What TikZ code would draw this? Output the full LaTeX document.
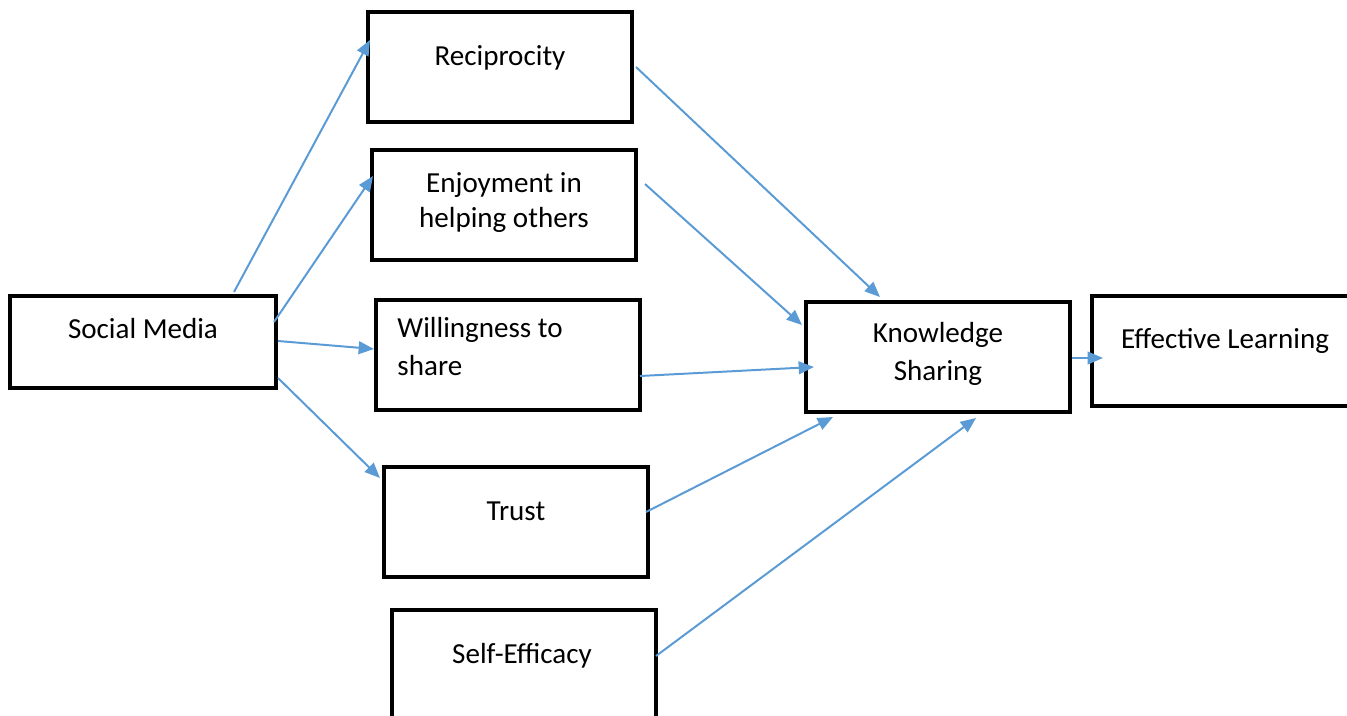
\documentclass[tikz,border=0pt]{standalone}
\usepackage{fontspec}
\setmainfont{Carlito}
\usepackage{tikz}
\usetikzlibrary{arrows.meta,positioning}
\definecolor{pfeilblau}{HTML}{5B9BD5}

\begin{document}
\begin{tikzpicture}[x=0.015cm,y=-0.015cm,
  kasten/.style={draw=black,line width=1.3pt,minimum width=3.96cm,minimum height=1.65cm,inner sep=0pt},
  schrift/.style={font=\fontsize{12.4}{15.6}\selectfont,inner sep=0pt,anchor=base},
  pfeil/.style={pfeilblau,line width=0.85pt,-{Triangle[length=2.3mm,width=1.9mm]}}]
%Rahmen in Pixeln der Vorlage (1347 x 716)
\useasboundingbox (0,0) rectangle (1347,716);
\clip (0,0) rectangle (1347,716);
%Kaesten
\node[kasten,minimum width=3.99cm,minimum height=1.38cm] (social) at (143,342) {};
\node[kasten] (recip) at (500,67) {};
\node[kasten] (enjoy) at (504,205) {};
\node[kasten] (will) at (508,355) {};
\node[kasten] (trust) at (516,522) {};
\node[kasten] (self) at (524,665) {};
\node[kasten] (know) at (938,357) {};
\node[kasten] (eff) at (1224,351) {};
%Beschriftungen
\node[schrift] (tsocial) at (143,338) {Social Media};
\node[schrift] (trecip) at (500,65) {Reciprocity};
\node[schrift] (tenjoy1) at (504,192) {Enjoyment in};
\node[schrift] (tenjoy2) at (504,227) {helping others};
\node[schrift,anchor=base west] (twill1) at (397,337) {Willingness to};
\node[schrift,anchor=base west] (twill2) at (397,375) {share};
\node[schrift] (ttrust) at (516,520) {Trust};
\node[schrift] (tself) at (522,663) {Self-Efficacy};
\node[schrift] (tknow1) at (938,342) {Knowledge};
\node[schrift] (tknow2) at (938,380) {Sharing};
\node[schrift] (teff) at (1225,348) {Effective Learning};
%Anfangs- und Endpunkte der Pfeile
\foreach \n/\x/\y in {s1/234/292, s2/274/322, s3/278/341, s4/278/378,
                      r1/370/40, e1/373/176, w1/374/349, t1/380/478,
                      r2/636/67, e2/645/184, w2/640/376, t2/646/512, f2/656/656,
                      k1/880/297, k2/802/325, k3/814/367, k4/833/417, k5/976/418,
                      k6/1072/358, l1/1103/358}{
  \coordinate (\n) at (\x,\y);
}
\draw[pfeil] (s1) -- (r1);
\draw[pfeil] (s2) -- (e1);
\draw[pfeil] (s3) -- (w1);
\draw[pfeil] (s4) -- (t1);
\draw[pfeil] (r2) -- (k1);
\draw[pfeil] (e2) -- (k2);
\draw[pfeil] (w2) -- (k3);
\draw[pfeil] (t2) -- (k4);
\draw[pfeil] (f2) -- (k5);
\draw[pfeil] (k6) -- (l1);
\end{tikzpicture}
\end{document}
